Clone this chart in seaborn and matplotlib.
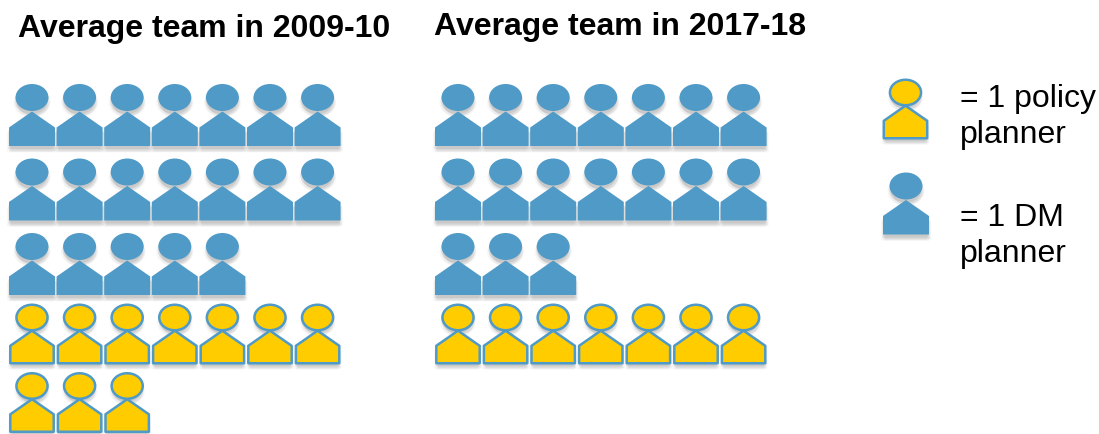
import matplotlib
matplotlib.use("Agg")
import matplotlib.pyplot as plt
import matplotlib.patheffects as pe
from matplotlib.path import Path
import numpy as np
import pandas as pd
import seaborn as sns

# Team composition: one icon per planner
teams = ["Average team in 2009-10", "Average team in 2017-18"]
dm_planners = [19, 17]
policy_planners = [10, 7]

legend_labels = ["= 1 policy\nplanner", "= 1 DM\nplanner"]

BLUE = "#4F9AC6"
YELLOW = "#FFCC00"
PER_ROW = 7

# Pixel layout of the icon grid
panel_left = [32, 458]
col_step = 47.6
row_centres = [116, 190.5, 265, 335, 403.5]
title_pos = [(18, 37), (433.5, 35)]
key_text_pos = [(960, 143), (960, 262)]


def person_marker():
    """Head-and-shoulders glyph as a compound path centred on the origin."""
    k = 0.5523
    cx, cy, rx, ry = 0.0, 17.5, 16.5, 13.5
    head = [(cx + rx, cy),
            (cx + rx, cy + k * ry), (cx + k * rx, cy + ry), (cx, cy + ry),
            (cx - k * rx, cy + ry), (cx - rx, cy + k * ry), (cx - rx, cy),
            (cx - rx, cy - k * ry), (cx - k * rx, cy - ry), (cx, cy - ry),
            (cx + k * rx, cy - ry), (cx + rx, cy - k * ry), (cx + rx, cy),
            (cx + rx, cy)]
    head_codes = [Path.MOVETO] + [Path.CURVE4] * 12 + [Path.CLOSEPOLY]
    body = [(0, 3.5), (23, -12.5), (23, -31), (-23, -31), (-23, -12.5), (0, 3.5)]
    body_codes = [Path.MOVETO] + [Path.LINETO] * 4 + [Path.CLOSEPOLY]
    return Path(head + body, head_codes + body_codes)


def grid_rows(panel, dm, policy):
    """One record per planner, DM planners first, wrapped at PER_ROW."""
    rows = []
    dm_rows = -(-dm // PER_ROW)
    for role, count, first_row in (("DM", dm, 0), ("policy", policy, dm_rows)):
        for i in range(count):
            row = first_row + i // PER_ROW
            rows.append({
                "x": panel_left[panel] + (i % PER_ROW) * col_step,
                "y": row_centres[row],
                "role": role,
            })
    return rows


records = []
for p in range(len(teams)):
    records += grid_rows(p, dm_planners[p], policy_planners[p])
# Key icons sit to the right of the grids
records.append({"x": 905.5, "y": 110, "role": "policy"})
records.append({"x": 906, "y": 204.5, "role": "DM"})
df = pd.DataFrame(records)

sns.set_theme(style="white")
plt.rcParams["font.family"] = ["Liberation Sans", "DejaVu Sans"]

fig = plt.figure(figsize=(10.99, 4.35), dpi=100)
ax = fig.add_axes([0, 0, 1, 1])


def px_to_area(px):
    return (px * 72 / 100) ** 2


sns.scatterplot(
    data=df, x="x", y="y", hue="role", style="role", size="role",
    palette={"DM": BLUE, "policy": YELLOW},
    markers={"DM": person_marker(), "policy": person_marker()},
    sizes={"DM": px_to_area(62), "policy": px_to_area(58.5)},
    edgecolor=BLUE, linewidth=1.8,
    legend=False, ax=ax, zorder=3,
)

# Only the policy planners keep a visible outline
icons = ax.collections[0]
icons.set_linewidths(np.where(df["role"] == "policy", 1.8, 0.0))

# Soft drop shadow built from a few translucent offset copies
shadow = [
    pe.SimplePatchShadow(offset=(dx, -dy), shadow_rgbFace="#444444", alpha=a)
    for dx, dy, a in ((-1.5, 4, 0.04), (1.5, 4, 0.04), (0, 4.5, 0.05),
                      (0.8, 3.2, 0.08), (-0.5, 2.2, 0.1))
]
icons.set_path_effects(shadow + [pe.Normal()])

ax.set_xlim(0, 1099)
ax.set_ylim(435, 0)
ax.set_axis_off()

for team, (tx, ty) in zip(teams, title_pos):
    ax.text(tx, ty, team, fontsize=23, fontweight="bold", color="black",
            ha="left", va="baseline")

for label, (tx, ty) in zip(legend_labels, key_text_pos):
    ax.text(tx, ty, label, fontsize=23, color="black",
            ha="left", va="baseline", linespacing=1.26)

fig.savefig("out.png", dpi=100)
